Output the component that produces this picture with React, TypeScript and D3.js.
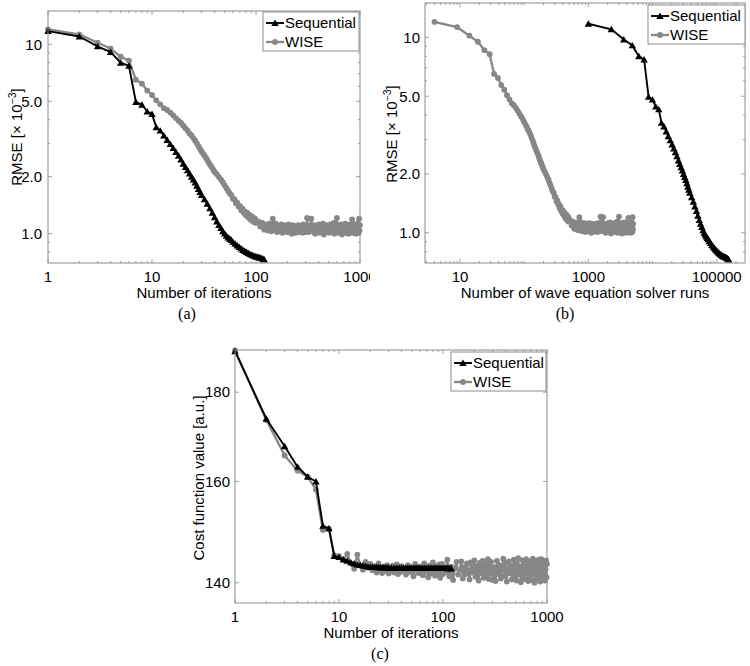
import React from 'react';
import * as d3 from 'd3';

// ---------------- data ----------------
const seqIter = [
  1, 2, 3, 4, 5, 6, 7, 8, 9, 10, 11, 12, 13, 14, 15, 16, 17, 18, 19, 20, 21, 22, 23, 24, 25, 26, 27, 28, 29, 30,
  32, 34, 36, 38, 40, 42, 44, 46, 48, 50, 52, 54, 56, 58, 60,
  63, 66, 69, 72, 75, 78, 81, 84, 87, 90, 93, 96, 99, 102, 105, 108, 111, 114, 117, 120,
];
const seqRmse = [
  11.75, 11.0, 9.75, 9.1, 8.0, 7.7, 4.96, 4.8, 4.42, 4.28,
  3.65, 3.5, 3.3, 3.12, 2.97, 2.83, 2.7, 2.58, 2.46, 2.34,
  2.25, 2.16, 2.08, 2.0, 1.93, 1.86, 1.79, 1.72, 1.66, 1.6,
  1.52, 1.44, 1.36, 1.29, 1.22, 1.16, 1.11, 1.07, 1.03, 1.0, 0.975, 0.955, 0.94, 0.925, 0.905,
  0.885, 0.865, 0.85, 0.835, 0.82, 0.81, 0.8, 0.79, 0.782, 0.775, 0.769, 0.763, 0.758, 0.755, 0.752, 0.749, 0.745, 0.741, 0.736, 0.73,
];
const seqCost = [
  190.0, 173.8, 167.6, 163.1, 161.0, 160.0, 150.9, 150.4, 145.0, 144.8,
  144.4, 144.1, 143.8, 143.6, 143.4, 143.3, 143.2, 143.1, 143.0, 142.95,
  142.92, 142.9, 142.88, 142.86, 142.85, 142.84, 142.83, 142.82, 142.81, 142.8,
  142.8, 142.79, 142.78, 142.78, 142.77, 142.77, 142.76, 142.76, 142.76, 142.75, 142.75, 142.75, 142.75, 142.74, 142.74,
  142.74, 142.74, 142.73, 142.73, 142.73, 142.73, 142.72, 142.72, 142.72, 142.72, 142.72, 142.71, 142.71, 142.71, 142.71, 142.71, 142.7, 142.7, 142.7, 142.7,
];

const wiseIter = [
  1, 2, 3, 4, 5, 6, 7, 8, 9, 10, 11, 12, 13, 14, 15, 16, 17, 18, 19, 20,
  21, 22, 23, 24, 25, 26, 27, 28, 29, 30, 31, 32, 33, 34, 35, 36, 37, 38, 39, 40,
  42, 44, 46, 48, 50, 52, 54, 56, 58, 60, 62, 64, 66, 68, 70, 72, 74, 76, 78, 80,
  82, 84, 86, 88, 90, 92, 94, 96, 98, 100,
  105, 110, 115, 120, 125, 130, 135, 140, 145, 150, 155, 160, 165, 170, 175, 180, 185, 190, 195, 200,
  205, 210, 215, 220, 225, 230, 235, 240, 245, 250, 255, 260, 265, 270, 275, 280, 285, 290, 295, 300,
  310, 320, 330, 340, 350, 360, 370, 380, 390, 400, 410, 420, 430, 440, 450, 460, 470, 480, 490, 500,
  510, 520, 530, 540, 550, 560, 570, 580, 590, 600, 610, 620, 630, 640, 650, 660, 670, 680, 690, 700,
  710, 720, 730, 740, 750, 760, 770, 780, 790, 800, 810, 820, 830, 840, 850, 860, 870, 880, 890, 900,
  910, 920, 930, 940, 950, 960, 970, 980, 990, 1000,
];
const wiseRmse = [
  12.0, 11.3, 10.2, 9.5, 8.6, 8.2, 6.5, 6.2, 5.7, 5.4,
  5.06, 4.82, 4.6, 4.5, 4.36, 4.22, 4.08, 3.95, 3.85, 3.72,
  3.6, 3.5, 3.38, 3.3, 3.2, 3.1, 3.0, 2.9, 2.8, 2.72,
  2.65, 2.58, 2.52, 2.45, 2.38, 2.32, 2.27, 2.22, 2.17, 2.12,
  2.06, 1.99, 1.93, 1.87, 1.8, 1.74, 1.68, 1.63, 1.6, 1.53,
  1.52, 1.45, 1.46, 1.39, 1.4, 1.33, 1.36, 1.29, 1.31, 1.25,
  1.29, 1.22, 1.26, 1.19, 1.24, 1.17, 1.22, 1.15, 1.2, 1.14,
  1.16, 1.09, 1.14, 1.05, 1.12, 1.04, 1.13, 1.03, 1.2, 1.04,
  1.13, 1.02, 1.1, 1.03, 1.12, 1.01, 1.11, 1.04, 1.1, 1.02,
  1.12, 1.03, 1.09, 1.0, 1.11, 1.04, 1.1, 1.01, 1.09, 1.03,
  1.11, 1.02, 1.1, 1.04, 1.09, 1.01, 1.12, 1.03, 1.1, 1.02,
  1.21, 1.02, 1.1, 1.2, 1.03, 1.11, 1.0, 1.09, 1.04, 1.12,
  1.01, 1.1, 1.03, 1.13, 0.99, 1.1, 1.02, 1.11, 1.04, 1.09,
  1.01, 1.12, 1.02, 1.1, 1.03, 1.14, 1.0, 1.1, 1.04, 1.21,
  1.02, 1.11, 1.01, 1.09, 1.03, 1.12, 0.99, 1.1, 1.04, 1.11,
  1.01, 1.13, 1.02, 1.1, 1.03, 1.09, 1.0, 1.11, 1.04, 1.12,
  1.01, 1.1, 1.02, 1.19, 1.03, 1.09, 1.01, 1.12, 1.04, 1.1,
  1.0, 1.11, 1.02, 1.13, 1.03, 1.1, 1.01, 1.2, 1.04, 1.11,
];
const wiseCost = [
  190.2, 173.5, 165.6, 162.3, 161.0, 158.3, 150.1, 150.3, 145.2, 145.0,
  144.2, 145.4, 143.6, 142.6, 145.3, 143.2, 142.4, 143.9, 142.8, 143.5,
  142.3, 143.1, 141.9, 143.6, 142.5, 141.8, 143.0, 142.2, 143.3, 141.7,
  142.9, 142.1, 143.2, 141.9, 142.6, 143.4, 141.6, 142.8, 142.0, 143.1,
  142.4, 141.5, 143.3, 142.0, 142.9, 141.2, 143.5, 142.3, 141.8, 143.0,
  142.5, 141.4, 143.6, 142.1, 142.7, 141.0, 143.2, 142.4, 141.7, 143.8,
  142.2, 141.3, 143.1, 142.6, 141.9, 143.4, 140.9, 142.8, 143.5, 141.6,
  142.0, 144.3, 141.2, 143.0, 140.5, 142.7, 143.9, 141.5, 142.4, 144.0,
  140.8, 142.9, 141.6, 143.6, 142.2, 140.6, 143.8, 141.9, 142.5, 144.2,
  141.1, 143.1, 142.3, 140.4, 143.7, 141.8, 142.8, 144.1, 140.9, 142.6,
  143.4, 141.3, 142.1, 144.4, 140.7, 143.0, 141.7, 143.9, 142.4, 140.5,
  142.9, 140.3, 144.1, 141.6, 143.3, 140.8, 142.5, 144.5, 141.2, 143.7,
  140.2, 142.1, 144.0, 141.8, 143.2, 140.6, 142.7, 144.3, 141.0, 143.5,
  140.4, 142.3, 144.6, 141.5, 143.0, 140.1, 142.8, 144.2, 141.3, 143.6,
  140.7, 142.0, 144.4, 141.7, 143.1, 140.3, 142.6, 144.0, 141.1, 143.8,
  140.5, 142.2, 144.5, 141.9, 143.4, 140.0, 142.9, 144.1, 141.4, 143.3,
  140.8, 142.4, 144.3, 141.6, 143.0, 140.2, 142.7, 144.4, 141.2, 143.7,
  140.6, 142.1, 143.9, 141.8, 143.2, 140.4, 142.5, 144.2, 141.0, 143.5,
];

// solver runs per iteration (panel b)
const seqRunsPerIter = 1280;
const seqRunsOffset = -280;
const wiseRunsPerIter = 5;
const wiseRunsOffset = -1;

const seriesNames = ['Sequential', 'WISE'];
const xTicksIter = [1, 10, 100, 1000];
const xTickLabelsIter = ['1', '10', '100', '1000'];
const xTicksRuns = [10, 1000, 100000];
const xTickLabelsRuns = ['10', '1000', '100000'];
const yTicksRmse = [1, 2, 5, 10];
const yTickLabelsRmse = ['1.0', '2.0', '5.0', '10'];
const yTicksCost = [140, 160, 180];
const yTickLabelsCost = ['140', '160', '180'];

// ---------------- styling ----------------
const FONT = '"Liberation Sans", Arial, Helvetica, sans-serif';
const SERIF = '"Liberation Serif", "Times New Roman", serif';
const BOX = '#8c8c8c';
const GRAY = '#878787';
const BLACK = '#000000';

type Series = { xs: number[]; ys: number[]; color: string; marker: 'tri' | 'circle'; width: number };

type PanelProps = {
  id: string;
  left: number; right: number; top: number; bottom: number;
  xDomain: [number, number]; yDomain: [number, number];
  xTicks: number[]; xTickLabels: string[];
  yTicks: number[]; yTickLabels: string[];
  yMinor: boolean;
  series: Series[];
  legend: { x: number; y: number; w: number; h: number };
  xTitle: string;
  yTitle: React.ReactNode;
  yTitleX: number; yTitleY: number;
  yLabelGap: number;
  panelLabel: string; panelLabelX: number;
  clip?: { x: number; y: number; w: number; h: number };
};

function logMinor(domain: [number, number], majors: number[]) {
  const [a, b] = domain;
  const out: number[] = [];
  for (let e = Math.floor(Math.log10(a)); e <= Math.ceil(Math.log10(b)); e++) {
    for (let k = 1; k <= 9; k++) {
      const v = k * Math.pow(10, e);
      if (v > a * 1.0001 && v < b * 0.9999 && !majors.some((m) => Math.abs(m - v) / v < 1e-6)) out.push(v);
    }
  }
  return out;
}

const triPath = d3.symbol().type(d3.symbolTriangle).size(24)() as string;

function Marker({ kind, x, y, color }: { kind: 'tri' | 'circle'; x: number; y: number; color: string }) {
  if (kind === 'circle') return <circle cx={x} cy={y} r={2.9} fill={color} />;
  return <path d={triPath} transform={`translate(${x},${y + 0.8})`} fill={color} />;
}

function Panel(p: PanelProps) {
  const x = d3.scaleLog().domain(p.xDomain).range([p.left, p.right]);
  const y = d3.scaleLog().domain(p.yDomain).range([p.bottom, p.top]);
  const xMinor = logMinor(p.xDomain, p.xTicks);
  const yMinor = p.yMinor ? logMinor(p.yDomain, p.yTicks) : [];
  const line = d3.line<[number, number]>().x((d) => x(d[0])).y((d) => y(d[1]));
  const MAJ = 4;
  const MIN = 2.2;
  const lg = p.legend;
  const rows = [lg.y + 11, lg.y + 30];
  const clipId = `clip-${p.id}`;
  return (
    <g clipPath={p.clip ? `url(#${clipId})` : undefined}>
      {p.clip && (
        <defs>
          <clipPath id={clipId}>
            <rect x={p.clip.x} y={p.clip.y} width={p.clip.w} height={p.clip.h} />
          </clipPath>
        </defs>
      )}
      <rect x={p.left} y={p.top} width={p.right - p.left} height={p.bottom - p.top} fill="#fff" />
      {/* ticks */}
      <g stroke={BOX} strokeWidth={0.8}>
        {p.xTicks.map((t) => (
          <g key={`xt${t}`}>
            <line x1={x(t)} x2={x(t)} y1={p.bottom} y2={p.bottom - MAJ} />
            <line x1={x(t)} x2={x(t)} y1={p.top} y2={p.top + MAJ} />
          </g>
        ))}
        {xMinor.map((t) => (
          <g key={`xm${t}`}>
            <line x1={x(t)} x2={x(t)} y1={p.bottom} y2={p.bottom - MIN} />
            <line x1={x(t)} x2={x(t)} y1={p.top} y2={p.top + MIN} />
          </g>
        ))}
        {p.yTicks.map((t) => (
          <g key={`yt${t}`}>
            <line x1={p.left} x2={p.left + MAJ} y1={y(t)} y2={y(t)} />
            <line x1={p.right} x2={p.right - MAJ} y1={y(t)} y2={y(t)} />
          </g>
        ))}
        {yMinor.map((t) => (
          <g key={`ym${t}`}>
            <line x1={p.left} x2={p.left + MIN} y1={y(t)} y2={y(t)} />
            <line x1={p.right} x2={p.right - MIN} y1={y(t)} y2={y(t)} />
          </g>
        ))}
      </g>
      {/* series */}
      {p.series.map((s, i) => {
        const pts: [number, number][] = s.xs.map((v, j) => [v, s.ys[j]]);
        return (
          <g key={`s${i}`}>
            <path d={line(pts) || ''} fill="none" stroke={s.color} strokeWidth={s.width} strokeLinejoin="round" />
            {pts.map((d, j) => (
              <Marker key={j} kind={s.marker} x={x(d[0])} y={y(d[1])} color={s.color} />
            ))}
          </g>
        );
      })}
      {/* box */}
      <rect x={p.left} y={p.top} width={p.right - p.left} height={p.bottom - p.top} fill="none" stroke={BOX} strokeWidth={1} />
      {/* tick labels */}
      <g fontFamily={FONT} fontSize={15} fill="#000">
        {p.xTicks.map((t, i) => (
          <text key={`xl${t}`} x={x(t)} y={p.bottom + 18.5} textAnchor="middle">{p.xTickLabels[i]}</text>
        ))}
        {p.yTicks.map((t, i) => (
          <text key={`yl${t}`} x={p.left - p.yLabelGap} y={y(t) + 5.3} textAnchor="end">{p.yTickLabels[i]}</text>
        ))}
        <text x={(p.left + p.right) / 2} y={p.bottom + 35} textAnchor="middle">{p.xTitle}</text>
        <text transform={`translate(${p.yTitleX},${p.yTitleY}) rotate(-90)`} textAnchor="middle">{p.yTitle}</text>
      </g>
      {/* legend */}
      <rect x={lg.x} y={lg.y} width={lg.w} height={lg.h} fill="#fff" stroke={BOX} strokeWidth={1} />
      {[1, 0].map((si, r) => {
        const s = p.series[si];
        const cy = rows[r];
        return (
          <g key={`lg${r}`}>
            <line x1={lg.x + 3} x2={lg.x + 21} y1={cy} y2={cy} stroke={s.color} strokeWidth={s.width} />
            <Marker kind={s.marker} x={lg.x + 12} y={cy} color={s.color} />
            <text x={lg.x + 22} y={cy + 5.3} fontFamily={FONT} fontSize={15} fill="#000">{seriesNames[r]}</text>
          </g>
        );
      })}
      <text x={p.panelLabelX} y={p.bottom + 56} textAnchor="middle" fontFamily={SERIF} fontSize={16} fill="#000">{p.panelLabel}</text>
    </g>
  );
}

const rmseTitle = (
  <>
    RMSE [× 10<tspan dy={-6} fontSize={10.5}>−3</tspan><tspan dy={6}>]</tspan>
  </>
);

export default function App() {
  const seqRuns = seqIter.map((n) => n * seqRunsPerIter + seqRunsOffset);
  const wiseRuns = wiseIter.map((n) => n * wiseRunsPerIter + wiseRunsOffset);

  const mk = (sx: number[], sy: number[], wx: number[], wy: number[]): Series[] => [
    { xs: wx, ys: wy, color: GRAY, marker: 'circle', width: 2.3 },
    { xs: sx, ys: sy, color: BLACK, marker: 'tri', width: 1.9 },
  ];

  return (
    <svg width={750} height={666} style={{ position: 'absolute', left: 0, top: 0, background: '#fff' }}>
      <rect x={0} y={0} width={750} height={666} fill="#fff" />
      <Panel
        id="a"
        left={48} right={360} top={11} bottom={263}
        xDomain={[1, 1000]} yDomain={[0.7, 15]}
        xTicks={xTicksIter} xTickLabels={xTickLabelsIter}
        yTicks={yTicksRmse} yTickLabels={yTickLabelsRmse} yMinor={true}
        series={mk(seqIter, seqRmse, wiseIter, wiseRmse)}
        legend={{ x: 263, y: 12, w: 96, h: 39 }}
        xTitle="Number of iterations"
        yTitle={rmseTitle} yTitleX={22} yTitleY={137}
        yLabelGap={6}
        panelLabel="(a)" panelLabelX={187}
        clip={{ x: 0, y: 0, w: 370, h: 330 }}
      />
      <Panel
        id="b"
        left={425} right={745} top={3} bottom={263}
        xDomain={[2.85, 276000]} yDomain={[0.7, 15]}
        xTicks={xTicksRuns} xTickLabels={xTickLabelsRuns}
        yTicks={yTicksRmse} yTickLabels={yTickLabelsRmse} yMinor={true}
        series={mk(seqRuns, seqRmse, wiseRuns, wiseRmse)}
        legend={{ x: 648, y: 5, w: 97, h: 39 }}
        xTitle="Number of wave equation solver runs"
        yTitle={rmseTitle} yTitleX={397} yTitleY={134}
        yLabelGap={5}
        panelLabel="(b)" panelLabelX={565}
      />
      <Panel
        id="c"
        left={235} right={547} top={350} bottom={603}
        xDomain={[1, 1000]} yDomain={[136.3, 190.3]}
        xTicks={xTicksIter} xTickLabels={xTickLabelsIter}
        yTicks={yTicksCost} yTickLabels={yTickLabelsCost} yMinor={false}
        series={mk(seqIter, seqCost, wiseIter, wiseCost)}
        legend={{ x: 451, y: 352, w: 95, h: 39 }}
        xTitle="Number of iterations"
        yTitle="Cost function value [a.u.]" yTitleX={204} yTitleY={478}
        yLabelGap={5}
        panelLabel="(c)" panelLabelX={380}
      />
    </svg>
  );
}
